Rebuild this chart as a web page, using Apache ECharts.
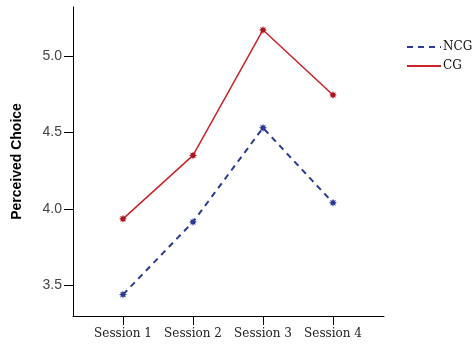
<!DOCTYPE html>
<html>
<head>
<meta charset="utf-8">
<script src="https://cdn.jsdelivr.net/npm/echarts@6/dist/echarts.min.js"></script>
<style>html,body{margin:0;padding:0;background:#fff;}#c{width:475px;height:347px;}</style>
</head>
<body>
<div id="c"></div>
<script>
var categories = ['Session 1', 'Session 2', 'Session 3', 'Session 4'];
var ncgValues = [3.44, 3.915, 4.53, 4.04];
var cgValues = [3.935, 4.35, 5.17, 4.745];
var yTicks = [3.5, 4.0, 4.5, 5.0];
var seriesNames = ['NCG', 'CG'];

var star = 'path://M1,0 L0.508,0.21 L0.707,0.707 L0.21,0.508 L0,1 L-0.21,0.508 L-0.707,0.707 L-0.508,0.21 L-1,0 L-0.508,-0.21 L-0.707,-0.707 L-0.21,-0.508 L0,-1 L0.21,-0.508 L0.707,-0.707 L0.508,-0.21 Z';

function toPairs(vals) { return vals.map(function (v, i) { return [i + 1, v]; }); }

var chart = echarts.init(document.getElementById('c'));
chart.setOption({
  animation: false,
  backgroundColor: '#fff',
  grid: { left: 73, right: 91, top: 7, bottom: 31, containLabel: false },
  legend: {
    orient: 'vertical', left: 401, top: 36, itemWidth: 34, itemHeight: 10, itemGap: 7,
    itemStyle: { opacity: 0 },
    textStyle: { fontFamily: 'DejaVu Serif', fontSize: 12, color: '#111', padding: [0, 0, 0, -3] },
    data: seriesNames
  },
  xAxis: {
    type: 'value', min: 0.2857, max: 4.7286,
    axisLine: { show: true, lineStyle: { color: '#000', width: 1 } },
    axisTick: { show: true, length: 9, lineStyle: { color: '#000' }, customValues: [1, 2, 3, 4] },
    axisLabel: {
      customValues: [1, 2, 3, 4], margin: 12,
      formatter: function (v) { return categories[Math.round(v) - 1]; },
      fontFamily: 'DejaVu Serif', fontSize: 12, color: '#222'
    },
    splitLine: { show: false }
  },
  yAxis: {
    type: 'value', min: 3.3, max: 5.32,
    name: 'Perceived Choice', nameLocation: 'middle', nameGap: 49,
    nameTextStyle: { fontFamily: 'Liberation Sans', fontWeight: 'bold', fontSize: 14, color: '#000' },
    axisLine: { show: true, lineStyle: { color: '#000', width: 1 } },
    axisTick: { show: true, length: 9, lineStyle: { color: '#000' }, customValues: yTicks },
    axisLabel: {
      customValues: yTicks, margin: 11,
      formatter: function (v) { return v.toFixed(1); },
      fontFamily: 'Liberation Sans', fontSize: 14, color: '#444'
    },
    splitLine: { show: false }
  },
  series: [
    {
      name: 'NCG', type: 'line', data: toPairs(ncgValues),
      symbol: star, symbolSize: 8,
      lineStyle: { color: '#2B3A93', width: 2, type: [6, 5] },
      itemStyle: { color: '#2B3A93' }
    },
    {
      name: 'CG', type: 'line', data: toPairs(cgValues),
      symbol: star, symbolSize: 8,
      lineStyle: { color: '#CC2229', width: 1.5 },
      itemStyle: { color: '#A8151E' }
    }
  ]
});
</script>
</body>
</html>
